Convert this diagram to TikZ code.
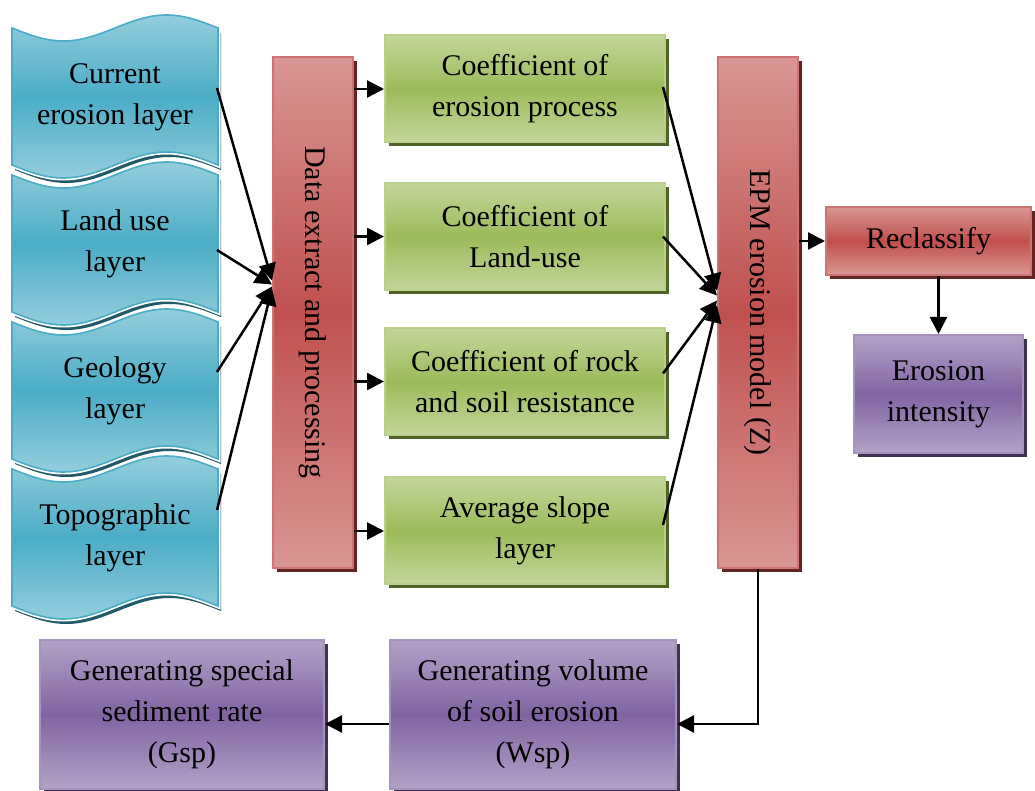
\documentclass[tikz,border=0pt]{standalone}
\usepackage{fontspec}
\setmainfont{Liberation Serif}
\usepackage{graphicx}
\usetikzlibrary{arrows.meta,shadows}

\definecolor{bluemid}{HTML}{4BACC6}
\definecolor{bluelight}{HTML}{93CDDD}
\definecolor{blueshadow}{HTML}{215968}
\definecolor{redmid}{HTML}{C0504D}
\definecolor{redlight}{HTML}{D99694}
\definecolor{redshadow}{HTML}{632523}
\definecolor{greenmid}{HTML}{9BBB59}
\definecolor{greenlight}{HTML}{C3D69B}
\definecolor{greenshadow}{HTML}{4F6228}
\definecolor{purplemid}{HTML}{8064A2}
\definecolor{purplelight}{HTML}{B3A2C7}
\definecolor{purpleshadow}{HTML}{3F3151}

\tikzstyle{box} = [rectangle,align=center,inner sep=0pt,line width=1pt,font=\fontsize{15}{20.5}\selectfont]
\tikzstyle{redbox} = [box,draw=redmid!80!white,top color=redlight,bottom color=redlight,middle color=redmid,
  drop shadow={shadow xshift=2pt,shadow yshift=-2pt,fill=redshadow,opacity=1}]
\tikzstyle{greenbox} = [box,draw=greenmid!70!white,top color=greenlight,bottom color=greenlight,middle color=greenmid,
  minimum width=140pt,minimum height=53.5pt,
  drop shadow={shadow xshift=2pt,shadow yshift=-2pt,fill=greenshadow,opacity=1}]
\tikzstyle{purplebox} = [box,draw=purplemid!70!white,top color=purplelight,bottom color=purplelight,middle color=purplemid,
  drop shadow={shadow xshift=2pt,shadow yshift=-2pt,fill=purpleshadow,opacity=1}]
\tikzstyle{layertext} = [box,minimum width=103pt]
\tikzstyle{tape} = [draw=bluemid,line width=0.8pt,top color=bluelight,bottom color=bluelight,middle color=bluemid]
\tikzstyle{arr} = [-{Triangle[length=8.5pt,width=8.5pt]},line width=1.25pt]

% punched tape outline, #1 = top of the layer
\newcommand{\tapepath}[1]{(12,#1) sin (63.5,{#1+13}) cos (115,#1) sin (166.5,{#1-13}) cos (218,#1)
  -- (218,{#1+137}) sin (166.5,{#1+124}) cos (115,{#1+137}) sin (63.5,{#1+150}) cos (12,{#1+137}) -- cycle}

\begin{document}
\begin{tikzpicture}[x=0.5pt,y=-0.5pt]
  \useasboundingbox (0,0) rectangle (1035,791);

  % input layers
  \foreach \t in {28,175,322,469} {
    \fill[blueshadow,shift={(3,5)}] \tapepath{\t};
    \draw[white,line width=2.5pt] \tapepath{\t};
    \path[tape] \tapepath{\t};
  }
  \node[layertext] (lay1) at (115,97) {Current\\erosion layer};
  \node[layertext] (lay2) at (115,244) {Land use\\layer};
  \node[layertext] (lay3) at (115,391) {Geology\\layer};
  \node[layertext] (lay4) at (115,538) {Topographic\\layer};

  \node[redbox,minimum width=40pt,minimum height=255.5pt] (data) at (313,312.5) {\rotatebox{-90}{Data extract and processing}};

  \node[greenbox] (g1) at (525,89) {Coefficient of\\erosion process};
  \node[greenbox] (g2) at (525,236.5) {Coefficient of\\Land-use};
  \node[greenbox] (g3) at (525,381.5) {Coefficient of rock\\and soil resistance};
  \node[greenbox] (g4) at (525,531) {Average slope\\layer};

  \node[redbox,minimum width=40pt,minimum height=255.5pt] (epm) at (758,312.5) {\rotatebox{-90}{EPM erosion model (Z)}};
  \node[redbox,minimum width=102.5pt,minimum height=34pt] (rec) at (928.5,241) {Reclassify};
  \node[purplebox,minimum width=84.5pt,minimum height=59pt] (ei) at (938.5,394) {Erosion\\intensity};

  \node[purplebox,minimum width=143pt,minimum height=74.5pt] (wsp) at (533,714.5) {Generating volume\\of soil erosion\\(Wsp)};
  \node[purplebox,minimum width=142pt,minimum height=74.5pt] (gsp) at (182,714.5) {Generating special\\sediment rate\\(Gsp)};

  % connectors
  \draw[arr] ([shift={(-1pt,4.5pt)}]lay1.east) -- ([yshift=16pt]data.west);
  \draw[arr] ([shift={(-1pt,-3pt)}]lay2.east) -- ([yshift=14pt]data.west);
  \draw[arr] ([shift={(-1pt,9.5pt)}]lay3.east) -- ([yshift=13pt]data.west);
  \draw[arr] ([shift={(-1pt,14pt)}]lay4.east) -- ([yshift=12pt]data.west);

  \foreach \g in {g1,g2,g3,g4}
    \draw[arr] (data.east |- \g.west) -- (\g.west);

  \draw[arr] ([shift={(-1.5pt,1pt)}]g1.east) -- ([yshift=11pt]epm.west);
  \draw[arr] ([shift={(-1.5pt,0pt)}]g2.east) -- ([yshift=8.5pt]epm.west);
  \draw[arr] ([shift={(-1.5pt,4pt)}]g3.east) -- ([yshift=6pt]epm.west);
  \draw[arr] ([shift={(-1.5pt,3pt)}]g4.east) -- ([yshift=3.5pt]epm.west);

  \draw[arr] (epm.east |- rec.west) -- (rec.west);
  \draw[arr] (ei.north |- rec.south) -- (ei.north);
  \draw[arr] (epm.south) |- ([yshift=-4.75pt]wsp.east);
  \draw[arr] ([yshift=-4.75pt]wsp.west) -- ([yshift=-4.75pt]gsp.east);
\end{tikzpicture}
\end{document}
